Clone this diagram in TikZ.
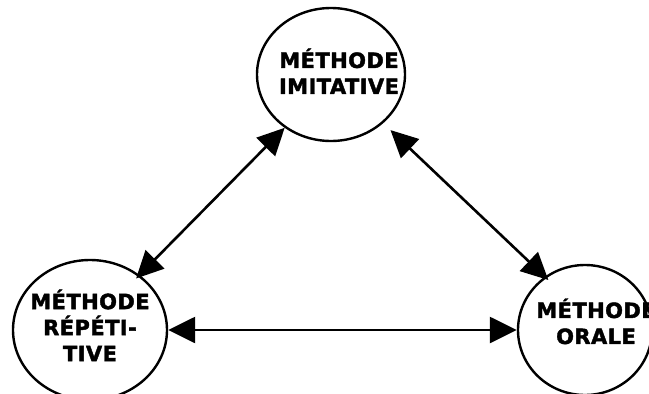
\documentclass[tikz,border=0pt]{standalone}
\usepackage{fontspec}
\setmainfont{DejaVu Sans}[BoldFeatures={FakeBold=1.8, LetterSpace=2}]
\usetikzlibrary{shapes.geometric,arrows.meta}

\tikzset{
  methodshape/.style={ellipse, draw=black, line width=2.4pt, inner sep=0pt, fill=white},
  methodtext/.style={inner sep=0pt, align=center,
    font=\fontsize{21}{26}\selectfont\bfseries},
  link/.style={line width=2.6pt, {Triangle[length=27pt,width=26pt]}-{Triangle[length=27pt,width=26pt]}},
}

\begin{document}
\begin{tikzpicture}[x=1pt, y=-1pt]
  \clip (0,0) rectangle (649,394);
  \useasboundingbox (0,0) rectangle (649,394);
  \fill[white] (0,0) rectangle (649,394);

  % the three methods
  \node[methodshape, minimum width=148pt, minimum height=133pt] (imit) at (331,74.5) {};
  \node[methodshape, minimum width=154pt, minimum height=140pt] (repet) at (90,330) {};
  \node[methodshape, minimum width=134pt, minimum height=130pt] (orale) at (585,330) {};

  \node[methodtext] (timit)  at (339,71.2)  {MÉTHODE\\IMITATIVE};
  \node[methodtext] (trepet) at (90,325.4)  {MÉTHODE\\RÉPÉTI-\\TIVE};
  \node[methodtext] (torale) at (596,321.4) {MÉTHODE\\ORALE};

  % two-way links between the methods
  \draw[link, shorten >=-5pt] (imit.229) -- (repet.48);
  \draw[link, shorten <=10pt, shorten >=-5pt] (imit.317) -- (orale.127);
  \draw[link] (repet.east) -- (orale.west);
\end{tikzpicture}
\end{document}
